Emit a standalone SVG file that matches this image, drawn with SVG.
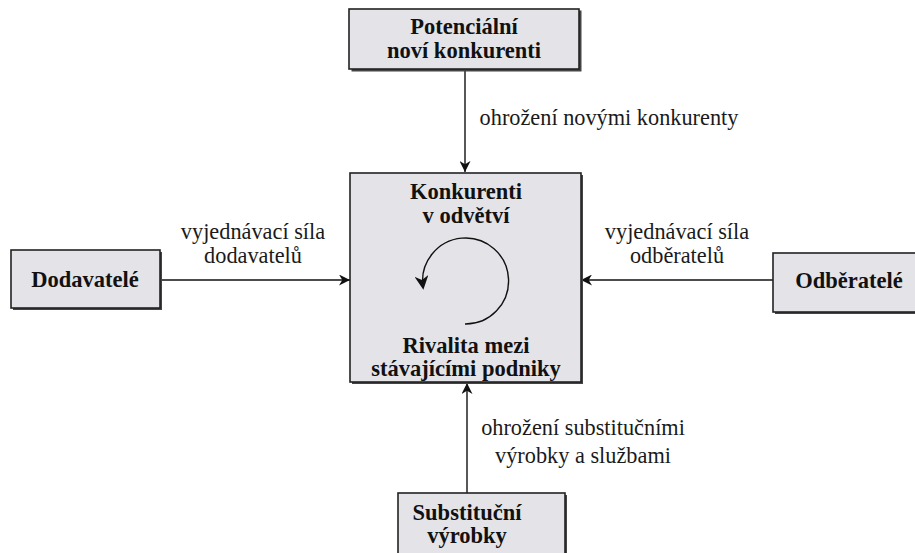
<svg xmlns="http://www.w3.org/2000/svg" width="915" height="553" viewBox="0 0 915 553">
<defs>
<marker id="ah" viewBox="0 0 10 10" refX="10" refY="5" markerWidth="11" markerHeight="11" markerUnits="userSpaceOnUse" orient="auto">
<path d="M0,0 L10,5 L0,10 L3,5 Z" fill="#111"/>
</marker>
<marker id="ah2" viewBox="0 0 10 10" refX="8" refY="5" markerWidth="14" markerHeight="14" markerUnits="userSpaceOnUse" orient="auto">
<path d="M0,0 L10,5 L0,10 L3,5 Z" fill="#111"/>
</marker>
</defs>
<style>
.box{fill:#e4e4e8;stroke:#222;stroke-width:1.6}
.sh{fill:#444}
.bt{font-weight:bold;font-size:22.5px;fill:#111;text-anchor:middle}
.lt{font-size:22.3px;fill:#1a1a1a;text-anchor:middle}
.ln{stroke:#111;stroke-width:1.4;fill:none}
</style>
<rect width="915" height="553" fill="#ffffff"/>
<g id="connectors" font-family="Liberation Serif, DejaVu Serif, serif">
<line class="ln" x1="465" y1="70" x2="465" y2="172" marker-end="url(#ah)"/>
<line class="ln" x1="160" y1="280" x2="350" y2="280" marker-end="url(#ah)"/>
<line class="ln" x1="773" y1="280" x2="581" y2="280" marker-end="url(#ah)"/>
<line class="ln" x1="467" y1="493" x2="467" y2="383" marker-end="url(#ah)"/>
<text class="lt" x="609" y="125">ohrožení novými konkurenty</text>
<text class="lt" x="253" y="239">vyjednávací síla</text>
<text class="lt" x="253" y="263">dodavatelů</text>
<text class="lt" x="677" y="239">vyjednávací síla</text>
<text class="lt" x="677" y="263">odběratelů</text>
<text class="lt" x="583" y="435">ohrožení substitučními</text>
<text class="lt" x="583" y="463">výrobky a službami</text>
</g>
<g id="potencialni" font-family="Liberation Serif, DejaVu Serif, serif">
<rect class="sh" x="351.5" y="10.5" width="230" height="61"/>
<rect class="box" x="349" y="9" width="230" height="60"/>
<text class="bt" x="464" y="34">Potenciální</text>
<text class="bt" x="464" y="58">noví konkurenti</text>
</g>
<g id="konkurenti" font-family="Liberation Serif, DejaVu Serif, serif">
<rect class="sh" x="352" y="175" width="231" height="209"/>
<rect class="box" x="350" y="173" width="231" height="209"/>
<text class="bt" x="466" y="199">Konkurenti</text>
<text class="bt" x="466" y="223">v odvětví</text>
<path class="ln" d="M465,324 A43,43 0 1 0 423,287" marker-end="url(#ah2)"/>
<text class="bt" x="466" y="353">Rivalita mezi</text>
<text class="bt" x="466" y="376">stávajícími podniky</text>
</g>
<g id="dodavatele" font-family="Liberation Serif, DejaVu Serif, serif">
<rect class="sh" x="13" y="252" width="149" height="58"/>
<rect class="box" x="11" y="250" width="149" height="58"/>
<text class="bt" x="85" y="287">Dodavatelé</text>
</g>
<g id="odberatele" font-family="Liberation Serif, DejaVu Serif, serif">
<rect class="sh" x="775" y="255" width="145" height="59"/>
<rect class="box" x="773" y="253" width="145" height="59"/>
<text class="bt" x="849" y="288">Odběratelé</text>
</g>
<g id="substitucni" font-family="Liberation Serif, DejaVu Serif, serif">
<rect class="sh" x="400" y="495" width="167" height="70"/>
<rect class="box" x="398" y="493" width="167" height="70"/>
<text class="bt" x="467" y="520">Substituční</text>
<text class="bt" x="467" y="543">výrobky</text>
</g>
</svg>
